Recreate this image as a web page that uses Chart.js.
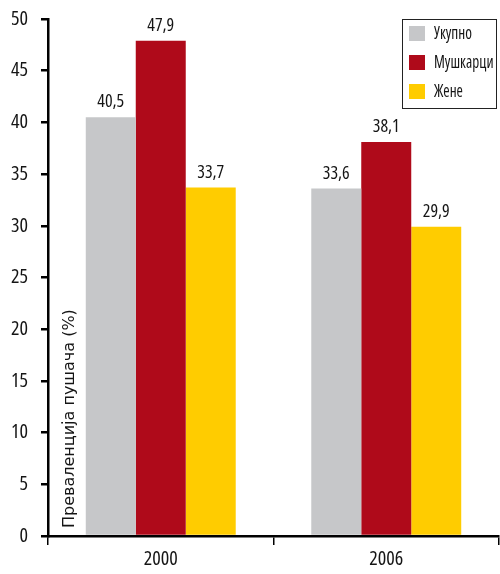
<!DOCTYPE html>
<html><head><meta charset="utf-8">
<script src="https://cdn.jsdelivr.net/npm/chart.js@4/dist/chart.umd.min.js"></script>
<style>html,body{margin:0;padding:0;background:#fff}#wrap{width:500px;height:574px}</style>
</head><body><div id="wrap"><canvas id="c" width="500" height="574"></canvas></div>
<script>
const categories = ['2000', '2006'];
const seriesNames = ['Укупно', 'Мушкарци', 'Жене'];
const ukupno = [40.5, 33.6];
const muskarci = [47.9, 38.1];
const zene = [33.7, 29.9];
const yTicks = [0, 5, 10, 15, 20, 25, 30, 35, 40, 45, 50];
const yTitle = 'Преваленција пушача (%)';
const colors = ['#C6C7C9', '#AF0A1A', '#FFCC00'];

const COND = '"Open Sans", "Roboto Condensed", sans-serif';
const TXT = '#151515';

const extras = {
  id: 'extras',
  afterDatasetsDraw(chart) {
    const ctx = chart.ctx;
    const area = chart.chartArea;
    ctx.save();
    // value labels
    ctx.font = 'normal condensed 18px ' + COND;
    ctx.fillStyle = TXT;
    ctx.textAlign = 'center';
    ctx.textBaseline = 'alphabetic';
    chart.data.datasets.forEach((ds, i) => {
      chart.getDatasetMeta(i).data.forEach((bar, j) => {
        ctx.fillText(String(ds.data[j]).replace('.', ','), bar.x, bar.y - 10);
      });
    });
    // y title inside plot
    ctx.save();
    ctx.translate(area.left + 22, area.bottom - 8);
    ctx.rotate(-Math.PI / 2);
    ctx.font = '16px "DejaVu Sans", sans-serif';
    ctx.textAlign = 'left';
    ctx.textBaseline = 'middle';
    ctx.fillStyle = TXT;
    ctx.fillText(yTitle, 0, 0);
    ctx.restore();
    // legend
    const lx = 402, ly = 19, lw = 94, lh = 89;
    ctx.fillStyle = '#fff';
    ctx.fillRect(lx, ly, lw, lh);
    ctx.strokeStyle = '#222';
    ctx.lineWidth = 1;
    ctx.strokeRect(lx + 0.5, ly + 0.5, lw, lh);
    ctx.textAlign = 'left';
    ctx.textBaseline = 'middle';
    chart.data.datasets.forEach((ds, i) => {
      const cy = ly + 15 + i * 29;
      ctx.fillStyle = ds.backgroundColor;
      ctx.fillRect(lx + 7, cy - 8, 16, 15);
      ctx.save();
      ctx.translate(lx + 32, cy);
      ctx.scale(0.85, 1);
      ctx.font = 'normal condensed 18px ' + COND;
      ctx.fillStyle = TXT;
      ctx.fillText(ds.label, 0, 0);
      ctx.restore();
    });
    ctx.restore();
  }
};

new Chart(document.getElementById('c'), {
  type: 'bar',
  data: {
    labels: categories,
    datasets: [
      { label: seriesNames[0], data: ukupno, backgroundColor: colors[0] },
      { label: seriesNames[1], data: muskarci, backgroundColor: colors[1] },
      { label: seriesNames[2], data: zene, backgroundColor: colors[2] }
    ]
  },
  options: {
    responsive: false,
    animation: false,
    devicePixelRatio: 1,
    layout: { padding: { top: 19, right: 1, left: 0, bottom: 0 } },
    datasets: { bar: { categoryPercentage: 0.665, barPercentage: 1.0 } },
    plugins: { legend: { display: false }, tooltip: { enabled: false } },
    scales: {
      x: {
        afterFit(s) { s.height = 38; s.paddingLeft = 0; s.paddingRight = 0; },
        border: { display: true, color: '#000', width: 2.5 },
        grid: { display: true, drawOnChartArea: false, drawTicks: true, tickLength: 9, color: '#000', lineWidth: 1.5, offset: true },
        ticks: { color: TXT, font: { family: COND, size: 20, weight: 'condensed' }, padding: 2, maxRotation: 0 }
      },
      y: {
        min: 0, max: 50,
        afterFit(s) { s.width = 48; s.paddingTop = 0; s.paddingBottom = 0; },
        afterBuildTicks(s) { s.ticks = yTicks.map(v => ({ value: v })); },
        border: { display: true, color: '#000', width: 2.5 },
        grid: { display: true, drawOnChartArea: false, drawTicks: true, tickLength: 7, color: '#000', lineWidth: 2.5 },
        ticks: { color: TXT, font: { family: COND, size: 20, weight: 'condensed' }, padding: 13 }
      }
    }
  },
  plugins: [extras]
});
</script></body></html>
